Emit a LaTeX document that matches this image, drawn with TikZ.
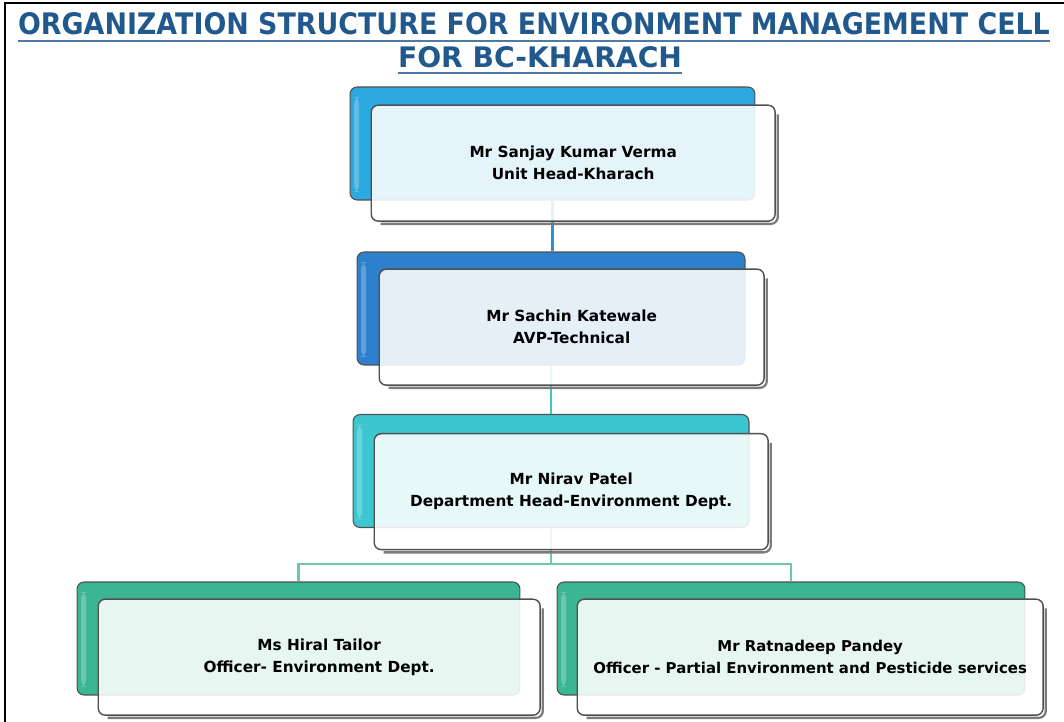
\documentclass[tikz,border=0pt]{standalone}
\usepackage{fontspec}
\setmainfont{DejaVu Sans}
\usepackage{graphicx}

\definecolor{titleblue}{RGB}{33,89,140}
\definecolor{tabone}{RGB}{43,168,224}
\definecolor{tabtwo}{RGB}{45,128,204}
\definecolor{tabthree}{RGB}{60,198,207}
\definecolor{tabfour}{RGB}{59,181,146}
\definecolor{edgegray}{RGB}{80,80,80}

\begin{document}
\begin{tikzpicture}[x=0.02cm, y=-0.02cm,
    tabbox/.style={draw=edgegray, line width=0.6pt, rounded corners=4pt,
        minimum height=2.26cm, inner sep=0pt,
        path picture={\fill[white, opacity=0.25] ([shift={(4,10)}]path picture bounding box.north west)
            rectangle ([shift={(9,-8)}]path picture bounding box.south west);}},
    frontbox/.style={draw=edgegray, line width=0.8pt, rounded corners=4pt,
        fill=white, fill opacity=0.88, text opacity=1, anchor=north west,
        minimum height=2.32cm, align=center,
        font=\bfseries\fontsize{8.7}{12.5}\selectfont},
    boxshadow/.style={edgegray!75, line width=1.3pt, rounded corners=4pt},
    link/.style={line width=1.2pt}]

    \useasboundingbox (0,0) rectangle (1064,722);

    % Cornice
    \draw[line width=1.2pt] (5,722) -- (5,3) -- (1064,3);

    % Titolo
    \node[anchor=base, inner sep=0pt, text=titleblue] (titleone) at (534,35)
        {\resizebox{20.64cm}{0.44cm}{\bfseries ORGANIZATION STRUCTURE FOR ENVIRONMENT MANAGEMENT CELL}};
    \node[anchor=base, inner sep=0pt, text=titleblue] (titletwo) at (540,68)
        {\resizebox{5.68cm}{0.42cm}{\bfseries FOR BC-KHARACH}};
    \draw[titleblue!80, line width=1.2pt] ([shift={(0,5)}]titleone.south west) -- ([shift={(0,5)}]titleone.south east);
    \draw[titleblue!80, line width=1.2pt] ([shift={(0,4)}]titletwo.south west) -- ([shift={(0,4)}]titletwo.south east);

    % Schede colorate dietro
    \node[tabbox, fill=tabone, minimum width=8.1cm] (headtab) at (552.5,143.5) {};
    \node[tabbox, fill=tabtwo, minimum width=7.76cm] (avptab) at (551,308.5) {};
    \node[tabbox, fill=tabthree, minimum width=7.92cm] (depttab) at (551,471) {};
    \node[tabbox, fill=tabfour, minimum width=8.86cm] (hiraltab) at (298.5,638.5) {};
    \node[tabbox, fill=tabfour, minimum width=9.36cm] (ratnatab) at (791,638.5) {};

    % Collegamenti
    \draw[link, tabtwo!60!tabone] (headtab.south) -- (headtab.south |- avptab.north);
    \draw[link, tabthree] (avptab.south) -- (avptab.south |- depttab.north);
    \draw[link, tabfour!75!white] (depttab.south) -- ++(0,36) -| (hiraltab.north);
    \draw[link, tabfour!75!white] (depttab.south) -- ++(0,36) -| (ratnatab.north);

    % Riquadri con i nomi
    \node[frontbox, minimum width=8.08cm] (head) at ([shift={(21,18)}]headtab.north west)
        {Mr Sanjay Kumar Verma \\ Unit Head-Kharach};
    \node[frontbox, minimum width=7.7cm] (avp) at ([shift={(22,17)}]avptab.north west)
        {Mr Sachin Katewale \\ AVP-Technical};
    \node[frontbox, minimum width=7.88cm] (dept) at ([shift={(21,19)}]depttab.north west)
        {Mr Nirav Patel \\ Department Head-Environment Dept.};
    \node[frontbox, minimum width=8.84cm] (hiral) at ([shift={(21,17)}]hiraltab.north west)
        {Ms Hiral Tailor \\ Officer- Environment Dept.};
    \node[frontbox, minimum width=9.32cm, font=\bfseries\fontsize{8.5}{12.5}\selectfont] (ratna)
        at ([shift={(20,17)}]ratnatab.north west)
        {Mr Ratnadeep Pandey \\ Officer - Partial Environment and Pesticide services};

    % Ombre
    \foreach \who in {head, avp, dept, hiral, ratna}
        \draw[boxshadow] ([shift={(10,2)}]\who.south west) -- ([shift={(2,2)}]\who.south east)
            -- ([shift={(2,10)}]\who.north east);

\end{tikzpicture}
\end{document}
